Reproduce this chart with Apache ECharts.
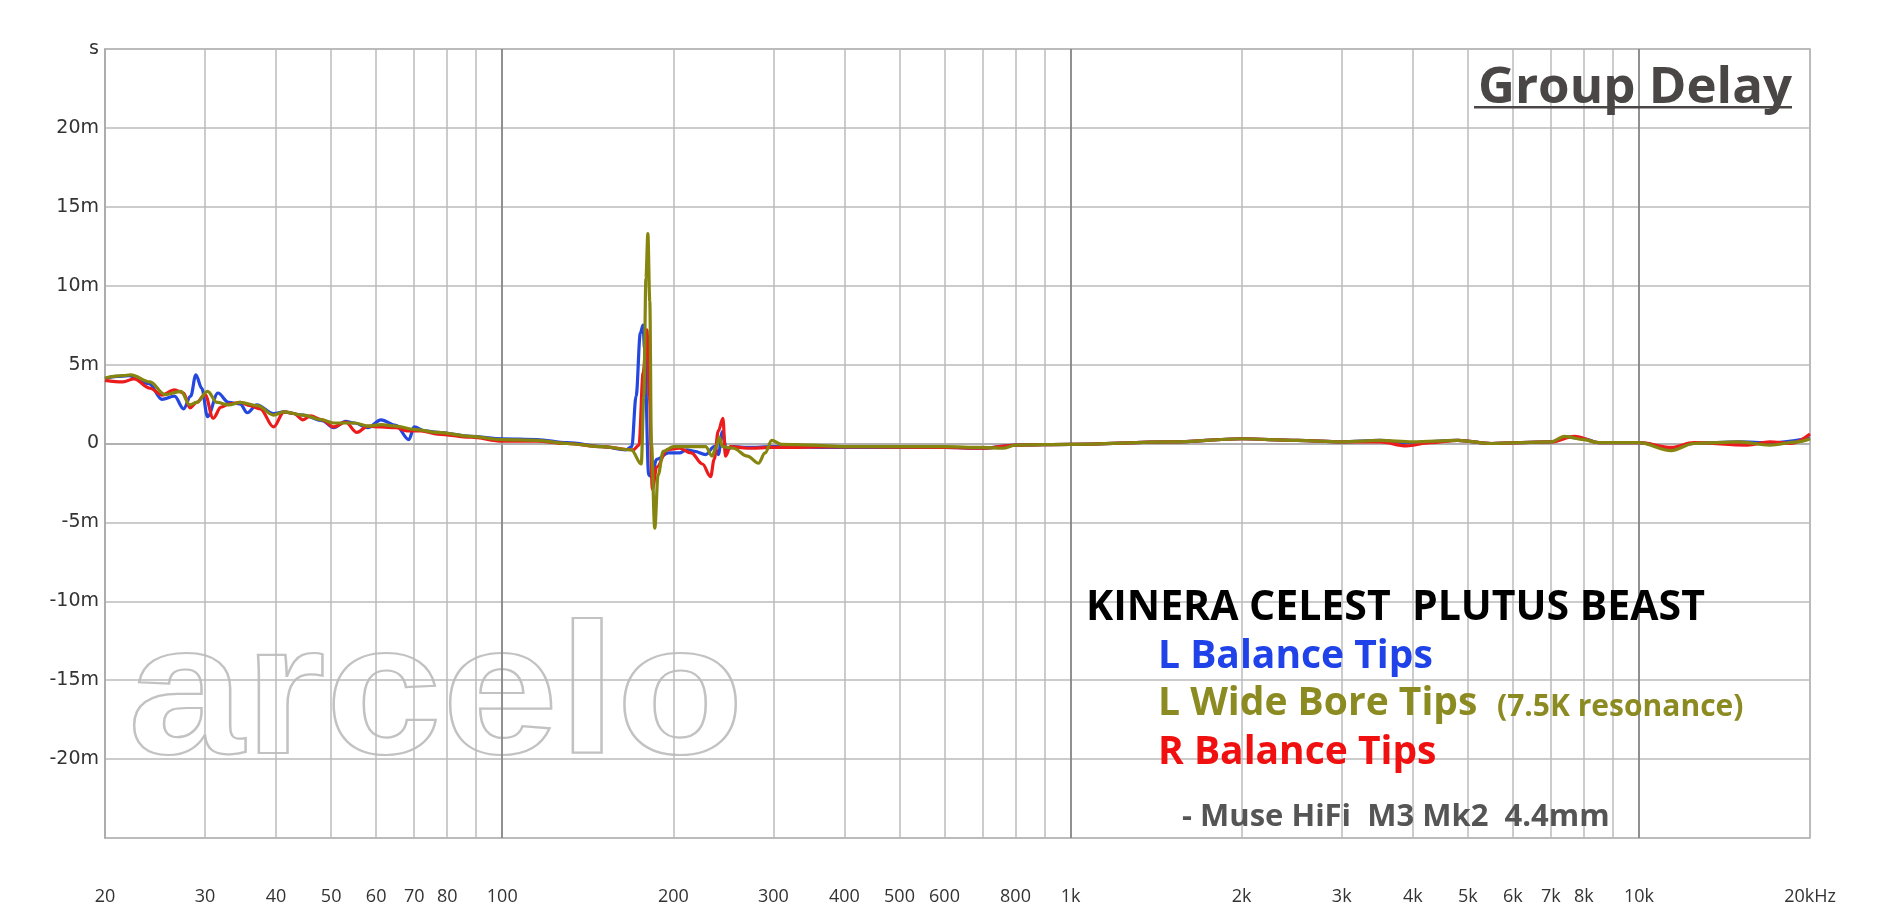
<!DOCTYPE html>
<html><head><meta charset="utf-8">
<script src="https://cdn.jsdelivr.net/npm/echarts@6/dist/echarts.min.js"></script>
<style>html,body{margin:0;padding:0;background:#fff}#c{width:1882px;height:919px}</style>
</head><body><div id="c"></div>
<script>
// ---- axis definitions ----
const xGridFreqs = [20,30,40,50,60,70,80,90,100,200,300,400,500,600,700,800,900,1000,2000,3000,4000,5000,6000,7000,8000,9000,10000,20000];
const xMajorFreqs = [100,1000,10000];
const xLabelFreqs = [20,30,40,50,60,70,80,100,200,300,400,500,600,800,1000,2000,3000,4000,5000,6000,7000,8000,10000,20000];
const yMin = -25, yMax = 25, yStep = 5; // milliseconds

// ---- L Balance Tips (blue) ----
const blueFreq = [20,21,22,23.9,25.2,26.5,27.5,28.3,28.9,29.6,30.3,31.6,33,34.6,35.6,37,39.6,41.3,44.6,48.2,50.5,53,55,58,61.2,65,68.5,70,73,77,88,100,115,130,150,165,169,172,175,176.9,178,181,183,187,196,205,211,218,228,236,240,244,248,255,270,300,400,600,700,800,1000,1500,2000,2500,3000,3500,3900,4800,5500,7000,7500,8000,8500,10000,11400,12500,15000,17000,20000];
const blueVal  = [4.1,4.25,4.3,3.8,2.8,3.0,2.2,3.0,4.35,3.5,1.7,3.2,2.6,2.5,1.95,2.45,1.9,2.0,1.8,1.45,1.0,1.4,1.3,1.0,1.5,1.15,0.25,1.05,0.8,0.7,0.45,0.3,0.25,0.05,-0.2,-0.4,-0.2,3.0,7.0,7.5,6.0,-2.0,-2.1,-1.0,-0.6,-0.6,-0.4,-0.5,-0.7,-0.2,-0.7,0.75,-0.4,-0.2,-0.25,-0.2,-0.25,-0.25,-0.3,-0.1,-0.05,0.1,0.3,0.2,0.1,0.2,0.05,0.2,0.0,0.1,0.4,0.3,0.05,0.05,-0.3,0.0,0.1,0.05,0.35];

// ---- R Balance Tips (red) ----
const redFreq = [20,21.5,22.5,24,25.2,26.5,27.5,28.2,29,30,31,32,33,34.6,36,37.5,39.6,41.3,43,44.6,46,48.2,50.5,53,55.5,58,61.2,65,68,72,77,88,100,115,130,150,170,174,177,179.7,181.5,183.7,187,195,205,215,225,232.6,236,240,244.5,247,252,270,300,400,600,700,800,1000,1500,2000,2500,3000,3500,3900,4300,4800,5500,7000,7700,8500,10000,11400,12500,15500,17000,18500,20000];
const redVal  = [4.0,3.9,4.1,3.5,3.07,3.4,3.2,2.26,2.6,3.1,1.6,2.3,2.5,2.6,2.4,2.2,1.05,2.0,1.9,1.5,1.75,1.5,1.05,1.35,0.7,1.1,1.05,1.0,0.8,0.8,0.6,0.4,0.15,0.15,0.0,-0.2,-0.4,-0.1,4.5,7.2,3.0,-2.9,-1.5,-0.4,-0.3,-0.6,-1.3,-2.1,-1.0,0.8,1.6,-0.8,-0.2,-0.3,-0.25,-0.2,-0.25,-0.3,-0.1,-0.05,0.1,0.3,0.2,0.1,0.1,-0.15,0.05,0.2,0.0,0.1,0.45,0.05,0.05,-0.25,0.05,-0.1,0.1,0.0,0.6];

// ---- L Wide Bore Tips (olive) ----
const oliveFreq = [20,21.5,22.2,24,25.5,27.2,28.2,29,30.3,31.5,33,34.6,37.1,39.6,41.3,44.6,48.2,50.5,55,58,61.2,65,70,77,88,100,115,130,150,168.7,175.6,177.5,179,180.4,181.8,183,185.5,188,192,200,215,228,234,238,241,244,255,270,282.4,290,298,310,350,400,600,700,760,800,1000,1500,2000,2500,3000,3500,4000,4800,5500,7000,7400,8000,8500,10000,11400,12500,15000,17000,19000,20000];
const oliveVal  = [4.15,4.3,4.35,3.9,3.1,3.3,2.45,2.6,3.3,2.6,2.45,2.6,2.4,1.8,2.0,1.8,1.5,1.3,1.3,1.1,1.2,1.1,0.9,0.7,0.45,0.25,0.2,0.0,-0.2,-0.4,-1.3,3.0,10.5,13.3,9.0,0.0,-5.37,-2.0,-0.5,-0.2,-0.2,-0.2,-0.8,-0.2,0.4,-0.2,-0.3,-0.8,-1.25,-0.6,0.2,-0.05,-0.1,-0.2,-0.2,-0.25,-0.3,-0.1,-0.05,0.1,0.3,0.2,0.1,0.2,0.1,0.2,0.0,0.1,0.45,0.25,0.05,0.05,-0.45,0.0,0.1,-0.1,0.1,0.3];

const toPts = (fs, vs) => fs.map((f, i) => [Math.log10(f), vs[i]]);
const L = Math.log10;
const fmtFreq = v => {
  const f = Math.round(Math.pow(10, v));
  if (f >= 20000) return '20kHz';
  return f >= 1000 ? (f / 1000) + 'k' : String(f);
};

const chart = echarts.init(document.getElementById('c'), null, {renderer: 'canvas'});
const lineSeries = (name, fs, vs, color) => ({
  name, type: 'line', data: toPts(fs, vs), showSymbol: false, symbol: 'none',
  smooth: 0.35, smoothMonotone: 'x',
  lineStyle: {color, width: 3.2}, itemStyle: {color}, z: 3
});

chart.setOption({
  animation: false,
  backgroundColor: '#ffffff',
  grid: {left: 105, right: 72, top: 49, bottom: 81, show: true, borderColor: '#a8a8a8', borderWidth: 1.5, containLabel: false},
  xAxis: [{
    type: 'value', min: L(20), max: L(20000),
    axisLine: {show: true, lineStyle: {color: '#a8a8a8', width: 1.5}},
    axisTick: {show: false, customValues: xGridFreqs.map(L)},
    splitLine: {show: true, lineStyle: {color: '#bbbbbb', width: 1.5}},
    axisLabel: {customValues: xLabelFreqs.map(L), formatter: fmtFreq, margin: 50,
      fontFamily: 'Open Sans', fontSize: 18, color: '#333'}
  }, {
    type: 'value', min: L(20), max: L(20000), gridIndex: 0, position: 'bottom',
    axisLine: {show: false}, axisTick: {show: false, customValues: xMajorFreqs.map(L)},
    axisLabel: {show: false, customValues: xMajorFreqs.map(L)},
    splitLine: {show: true, lineStyle: {color: '#7c7c7c', width: 1.5}}
  }],
  yAxis: {
    type: 'value', min: yMin, max: yMax, interval: yStep,
    axisLine: {show: true, lineStyle: {color: '#a8a8a8', width: 1.5}},
    axisTick: {show: false},
    splitLine: {show: true, lineStyle: {color: '#bbbbbb', width: 1.5}},
    axisLabel: {margin: 6, fontFamily: 'DejaVu Sans', fontSize: 19, color: '#333',
      formatter: v => v === yMax ? 's' : (v === yMin ? '' : (v === 0 ? '0' : v + 'm'))}
  },
  graphic: [
    {type: 'text', x: 128, y: 609, scaleX: 1.13, scaleY: 1, z: -10, silent: true,
     style: {text: 'arcelo', font: 'bold 185px "Liberation Sans"', fill: 'rgba(0,0,0,0)', stroke: '#c2c2c2', lineWidth: 2.2}},
    {type: 'text', right: 90, top: 63, z: 10,
     style: {text: 'Group Delay', font: 'bold 51px "Open Sans"', fill: '#4a4646'}},
    {type: 'rect', left: 1474, top: 106, z: 10, shape: {width: 318, height: 2.5}, style: {fill: '#4a4646'}},
    {type: 'text', left: 1086, top: 588, z: 10,
     style: {text: 'KINERA CELEST  PLUTUS BEAST', font: 'bold 41px "Open Sans"', fill: '#000'}},
    {type: 'text', left: 1158, top: 637, z: 10,
     style: {text: 'L Balance Tips', font: 'bold 39px "Open Sans"', fill: '#1f43e8'}},
    {type: 'text', left: 1158, top: 684, z: 10,
     style: {text: 'L Wide Bore Tips', font: 'bold 39px "Open Sans"', fill: '#8b8b22'}},
    {type: 'text', left: 1497, top: 692, z: 10,
     style: {text: '(7.5K resonance)', font: 'bold 30px "Open Sans"', fill: '#8b8b22'}},
    {type: 'text', left: 1158, top: 733, z: 10,
     style: {text: 'R Balance Tips', font: 'bold 39px "Open Sans"', fill: '#f01010'}},
    {type: 'text', left: 1182, top: 802, z: 10,
     style: {text: '- Muse HiFi  M3 Mk2  4.4mm', font: 'bold 31px "Open Sans"', fill: '#555'}}
  ],
  series: [
    lineSeries('L Balance Tips', blueFreq, blueVal, '#2447e0'),
    lineSeries('R Balance Tips', redFreq, redVal, '#ec1c1c'),
    lineSeries('L Wide Bore Tips', oliveFreq, oliveVal, '#85850f')
  ]
});
</script></body></html>
